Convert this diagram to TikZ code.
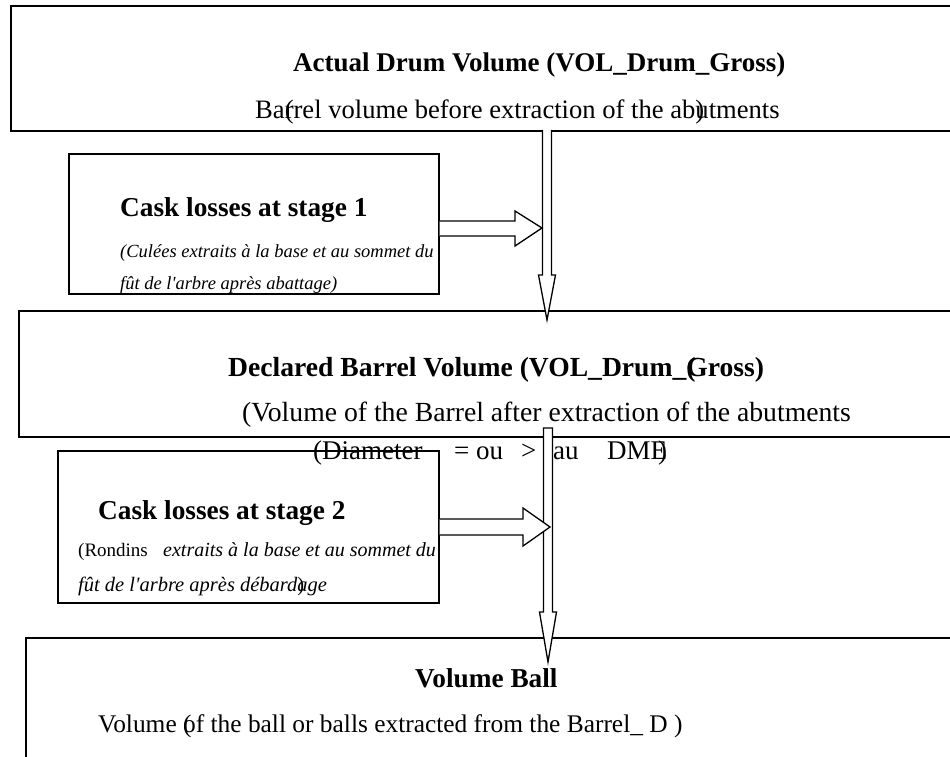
\documentclass[tikz,border=0pt]{standalone}
\usepackage{fontspec}
\setmainfont{Liberation Serif}
\begin{document}
\begin{tikzpicture}[x=1pt,y=-1pt,
  box/.style={draw,line width=1.6pt,inner sep=0pt,anchor=north west},
  blk/.style={draw,fill=white,line width=1.3pt,line join=miter},
  tx/.style={anchor=base west,inner sep=0pt},
  ttl/.style={tx,font=\fontsize{27.3}{30}\selectfont\bfseries},
  bdy/.style={tx,font=\fontsize{27}{30}\selectfont},
  itl/.style={tx,font=\fontsize{20}{24}\selectfont\itshape},
  sml/.style={tx,font=\fontsize{19}{24}\selectfont}]
\clip (0,0) rectangle (950,757);
\fill[white] (0,0) rectangle (950,757);

% big boxes
\node[box,minimum width=960pt,minimum height=125pt] (B1) at (10,5) {};
\node[box,minimum width=960pt,minimum height=126pt] (B2) at (18,310) {};
\node[box,minimum width=960pt,minimum height=140pt] (B3) at (25,637) {};
% small boxes
\node[box,minimum width=370pt,minimum height=140pt] (S1) at (68,153) {};
\node[box,minimum width=381pt,minimum height=152pt] (S2) at (57,450) {};

% texts box 1
\node[ttl,font=\fontsize{27}{30}\selectfont\bfseries] (t1) at (293,72) {Actual Drum Volume (VOL\_Drum\_Gross)};
\node[bdy,font=\fontsize{26.6}{30}\selectfont] (d1) at (255,119) {Ba\rlap{(}rrel volume before extraction of the ab\rlap{)}utments};

% small box 1 texts
\begin{scope}
\clip (68,153) rectangle (438,293);
\node[ttl] (c1) at (120,216) {Cask losses at stage 1};
\node[itl,font=\fontsize{18.5}{24}\selectfont\itshape] (c1a) at (120,257) {(Culées extraits à la base et au sommet du};
\node[itl,font=\fontsize{18.5}{24}\selectfont\itshape] (c1b) at (120,289) {fût de l\textquotesingle arbre après abattage)};
\end{scope}

% texts box 2
\node[ttl,font=\fontsize{27.6}{30}\selectfont\bfseries] (t2) at (228,376) {Declared Barrel Volume (VOL\_Drum\_\rlap{(}Gross)};
\node[bdy,font=\fontsize{27.7}{30}\selectfont] (d2) at (242,421) {(Volume of the Barrel after extraction of the abutments};
\node[bdy] (d2a) at (313,459) {(Diameter};
\node[bdy] (d2b) at (454,459) {= ou};
\node[bdy] (d2e) at (521,459) {>};
\node[bdy] (d2c) at (553,459) {au};
\node[bdy] (d2d) at (607,459) {DME\llap{)}};

% small box 2 texts
\begin{scope}
\clip (57,450) rectangle (438,602);
\node[ttl] (c2) at (98,519) {Cask losses at stage 2};
\node[sml] (c2a) at (78,556) {(Rondins};
\node[itl] (c2b) at (163,556) {extraits à la base et au sommet du};
\node[itl,font=\fontsize{20.5}{24}\selectfont\itshape] (c2c) at (78,591) {fût de l\textquotesingle arbre après débard\rlap{\upshape)}age};
\end{scope}

% texts box 3
\node[ttl] (t3) at (415,687) {Volume Ball};
\node[bdy,font=\fontsize{25.4}{30}\selectfont] (d3) at (98,732) {Volume \rlap{(}of the ball or balls extracted from the Barrel\_ D )};

% arrows
\coordinate (v1tip) at (547,320);
\draw[blk] (542.5,130) -- (542.5,275) -- (538.5,275) -- (v1tip) -- (555.5,275) -- (551.5,275) -- (551.5,130);
\coordinate (h1tip) at (542,228);
\draw[blk] (S1.east |- 0,221) -- (515,221) -- (515,211) -- (h1tip) -- (515,246) -- (515,236) -- (S1.east |- 0,236);

\coordinate (v2tip) at (548,662);
\draw[blk] (543.5,428) -- (543.5,612) -- (539.5,612) -- (v2tip) -- (556.5,612) -- (552.5,612) -- (552.5,428) -- cycle;
\coordinate (h2tip) at (550,527);
\draw[blk] (S2.east |- 0,519) -- (523,519) -- (523,508) -- (h2tip) -- (523,546) -- (523,535) -- (S2.east |- 0,535);
\end{tikzpicture}
\end{document}
